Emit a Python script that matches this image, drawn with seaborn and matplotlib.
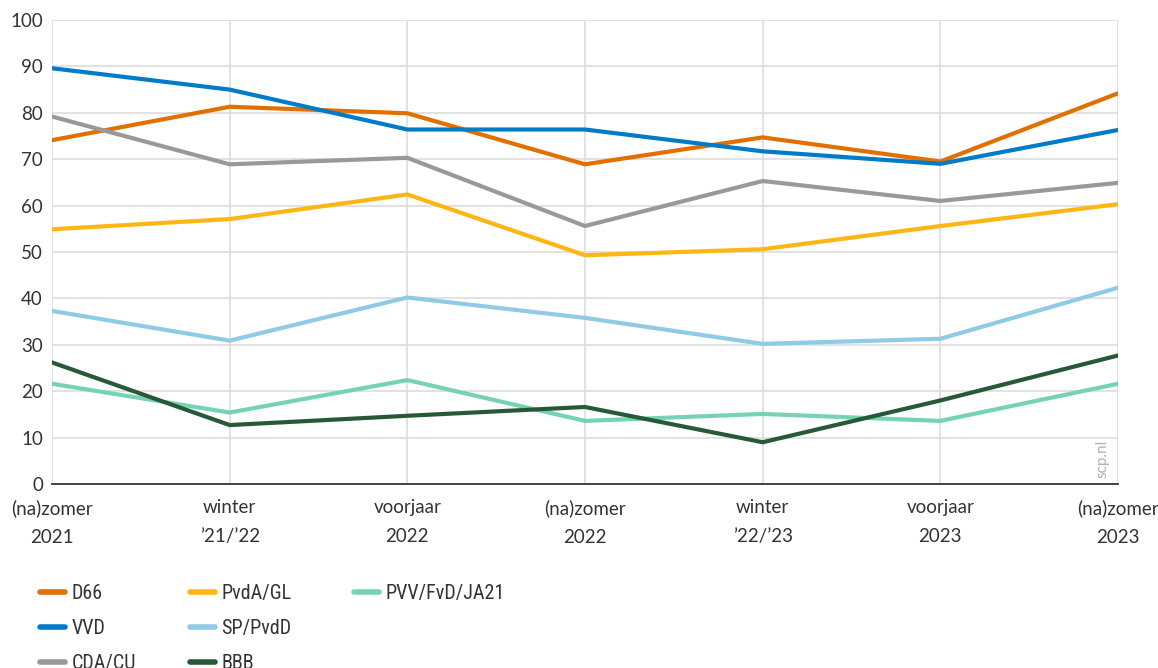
import matplotlib
matplotlib.use("Agg")
import matplotlib.pyplot as plt
from matplotlib.lines import Line2D
from matplotlib import font_manager
import seaborn as sns
import pandas as pd

periods = ["(na)zomer\n2021", "winter\n\u201921/\u201922", "voorjaar\n2022", "(na)zomer\n2022",
           "winter\n\u201922/\u201923", "voorjaar\n2023", "(na)zomer\n2023"]

d66 = [74.1, 81.3, 79.9, 68.9, 74.7, 69.5, 84.2]
vvd = [89.6, 85.0, 76.4, 76.4, 71.7, 69.0, 76.3]
cda_cu = [79.2, 68.9, 70.3, 55.6, 65.3, 61.0, 64.9]
pvda_gl = [54.9, 57.1, 62.4, 49.3, 50.6, 55.6, 60.3]
sp_pvdd = [37.3, 30.9, 40.2, 35.8, 30.2, 31.3, 42.3]
pvv_fvd_ja21 = [21.6, 15.4, 22.4, 13.6, 15.1, 13.6, 21.6]
bbb = [26.2, 12.7, 14.7, 16.6, 9.0, 18.0, 27.7]

parties = ["D66", "VVD", "CDA/CU", "PvdA/GL", "SP/PvdD", "PVV/FvD/JA21", "BBB"]
series = [d66, vvd, cda_cu, pvda_gl, sp_pvdd, pvv_fvd_ja21, bbb]
colors = ["#E17000", "#007BC7", "#999999", "#FFB612", "#8FCAE7", "#76D2B6", "#275937"]

rows = []
for p, vals in zip(parties, series):
    for i, v in enumerate(vals):
        rows.append({"x": i, "value": v, "partij": p})
df = pd.DataFrame(rows)

sns.set_theme(style="white")
plt.rcParams["font.family"] = ["Lato", "DejaVu Sans"]

# a narrow face for the legend if one is installed
names = {f.name for f in font_manager.fontManager.ttflist}
narrow = None
for cand in ["Liberation Sans Narrow", "Roboto Condensed", "Open Sans Condensed", "DejaVu Sans Condensed"]:
    if cand in names:
        narrow = cand
        break
legend_family = [narrow, "Lato"] if narrow else ["Lato"]

fig = plt.figure(figsize=(11.58, 6.68), dpi=100)
ax = fig.add_axes([52 / 1158, 1 - 484 / 668, (1118 - 52) / 1158, (484 - 20) / 668])

sns.lineplot(data=df, x="x", y="value", hue="partij", hue_order=parties,
             palette=dict(zip(parties, colors)), linewidth=3.0, ax=ax, legend=False,
             zorder=3)

ax.set_xlim(0, len(periods) - 1)
ax.set_ylim(0, 100)
ax.set_xticks(range(len(periods)))
ax.set_xticklabels(periods, linespacing=1.85)
ax.set_yticks(range(0, 101, 10))
ax.set_xlabel("")
ax.set_ylabel("")
ax.grid(True, color="#dddddd", linewidth=1.2, zorder=0)
ax.set_axisbelow(True)
for s in ["left", "top", "right"]:
    ax.spines[s].set_visible(False)
ax.spines["bottom"].set_color("#333333")
ax.spines["bottom"].set_linewidth(1.3)
ax.spines["bottom"].set_zorder(4)
ax.tick_params(axis="both", length=0, labelsize=13.5, colors="#333333")
ax.tick_params(axis="y", pad=6.5)
ax.tick_params(axis="x", pad=11)

ax.text(0.992, 0.012, "scp.nl", transform=ax.transAxes, rotation=90,
        ha="right", va="bottom", fontsize=11, color="#b0b0b0")

# legend: three columns placed separately
columns = [[0, 1, 2], [3, 4, 6], [5]]
col_x = [32, 182, 346]
for col, x0 in zip(columns, col_x):
    handles = [Line2D([], [], color=colors[i], linewidth=4, solid_capstyle="round") for i in col]
    labels = [parties[i] for i in col]
    fig.legend(handles, labels, loc="upper left", bbox_to_anchor=(x0 / 1158, 1 - 576 / 668),
               frameon=False, prop={"family": legend_family, "size": 14.5},
               handlelength=1.25, handletextpad=0.3, labelspacing=0.8,
               labelcolor="#333333", borderaxespad=0, borderpad=0.4)

fig.savefig("out.png", dpi=100)
